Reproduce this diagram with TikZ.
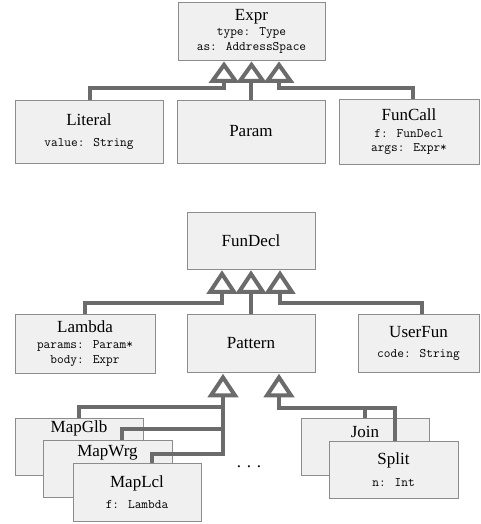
\documentclass[tikz,border=0pt]{standalone}
\usepackage{fontspec}
\setmainfont{Liberation Serif}
\usetikzlibrary{calc}
\definecolor{boxfill}{HTML}{F0F0F0}
\definecolor{boxline}{HTML}{8C8C8C}
\definecolor{connc}{HTML}{6B6B6B}
\newcommand\clsname{\fontsize{17}{20}\selectfont\rmfamily}
\newcommand\clsfield{\fontsize{13}{14.5}\selectfont\ttfamily}
\begin{document}
\begin{tikzpicture}[x=1pt,y=-1pt,
  box/.style={draw=boxline, fill=boxfill, line width=0.8pt, inner sep=0pt,
    align=center, font=\clsfield},
  conn/.style={draw=connc, line width=4pt, line join=miter},
  tri/.style={draw=connc, fill=white, line width=4pt, line join=miter},
  ttl/.style={font=\clsname, inner sep=0pt}
]
\useasboundingbox (0,0) rectangle (480,524);

% ---- Expr hierarchy
\node[box, minimum width=147, minimum height=58] (expr) at (251.5,31)
  {{\clsname Expr}\\[1pt] type: Type\\ as: AddressSpace};
\node[box, minimum width=148, minimum height=63] (literal) at (89,131.5)
  {{\clsname Literal}\\[7pt] value: String};
\node[box, minimum width=148, minimum height=63] (param) at (251,131.5)
  {{\clsname Param}};
\node[box, minimum width=140, minimum height=65] (funcall) at (409,132)
  {{\clsname FunCall}\\[2pt] f: FunDecl\\ args: Expr*};

\coordinate (ea) at ($(expr.south)+(-27.5,4.5)$);
\coordinate (eb) at ($(expr.south)+(0,4.5)$);
\coordinate (ec) at ($(expr.south)+(27.5,4.5)$);
\draw[conn] ($(literal.north)+(1,0)$) |- ($(ea)+(0,23.5)$) -- ($(ea)+(0,16)$);
\draw[conn] (param.north) -- ($(param.north |- eb)+(0,16)$);
\draw[conn] ($(funcall.north)+(4,0)$) |- ($(ec)+(0,23.5)$) -- ($(ec)+(0,16)$);
\foreach \t in {ea,eb,ec} \draw[tri] (\t) -- ++(-11.5,16) -- ++(23,0) -- cycle;

% ---- FunDecl hierarchy
\node[box, minimum width=128, minimum height=57] (fundecl) at (251,240.5)
  {{\clsname FunDecl}};
\node[box, minimum width=140, minimum height=59] (lambda) at (85,343.5)
  {{\clsname Lambda}\\[2pt] params: Param*\\ body: Expr};
\node[box, minimum width=128, minimum height=58] (pattern) at (251,343.5)
  {{\clsname Pattern}};
\node[box, minimum width=121, minimum height=58] (userfun) at (418.5,343.5)
  {{\clsname UserFun}\\[6pt] code: String};

\coordinate (fa) at ($(fundecl.south)+(-29,4.5)$);
\coordinate (fb) at ($(fundecl.south)+(0,4.5)$);
\coordinate (fc) at ($(fundecl.south)+(29,4.5)$);
\draw[conn] (lambda.north) |- ($(fa)+(0,29.5)$) -- ($(fa)+(0,18)$);
\draw[conn] (pattern.north) -- ($(fb)+(0,18)$);
\draw[conn] ($(userfun.north)+(3.5,0)$) |- ($(fc)+(0,29.5)$) -- ($(fc)+(0,18)$);
\foreach \t in {fa,fb,fc} \draw[tri] (\t) -- ++(-12,18) -- ++(24,0) -- cycle;

% ---- Pattern children
\node[box, minimum width=128, minimum height=57] (mapglb) at (79,446.5) {};
\node[ttl] (mapglbt) at ($(mapglb.north)+(0,11)$) {MapGlb};
\node[box, minimum width=129, minimum height=57] (mapwrg) at (107.5,468.5) {};
\node[ttl] (mapwrgt) at ($(mapwrg.north)+(0,13)$) {MapWrg};
\node[box, minimum width=128, minimum height=58] (maplcl) at (137,492)
  {{\clsname MapLcl}\\[7pt] f: Lambda};

\node[box, minimum width=128, minimum height=57] (join) at (365,446.5) {};
\node[ttl] (joint) at ($(join.north)+(0,14)$) {Join};
\node[box, minimum width=129, minimum height=57] (split) at (393.5,469.5)
  {{\clsname Split}\\[7pt] n: Int};

\node[font=\clsname, inner sep=0pt] (dots) at (249,467) {.\,\,.\,\,.};

\coordinate (pa) at ($(pattern.south)+(-28,4.5)$);
\coordinate (pb) at ($(pattern.south)+(28,4.5)$);
\draw[conn] (mapglb.north) |- ($(pa)+(0,29.5)$) -- ($(pa)+(0,18)$);
\draw[conn] ($(mapwrg.north)+(14.5,0)$) |- ($(pa)+(0,51.5)$) -- ($(pa)+(0,18)$);
\draw[conn] ($(maplcl.north)+(15,0)$) |- ($(pa)+(0,76.5)$) -- ($(pa)+(0,18)$);

\draw[conn] (join.north) |- ($(pb)+(0,30.5)$) -- ($(pb)+(0,18)$);
\draw[conn] ($(split.north)+(1.5,0)$) |- ($(pb)+(0,30.5)$) -- ($(pb)+(0,18)$);
\foreach \t in {pa,pb} \draw[tri] (\t) -- ++(-12,18) -- ++(24,0) -- cycle;
\end{tikzpicture}
\end{document}
